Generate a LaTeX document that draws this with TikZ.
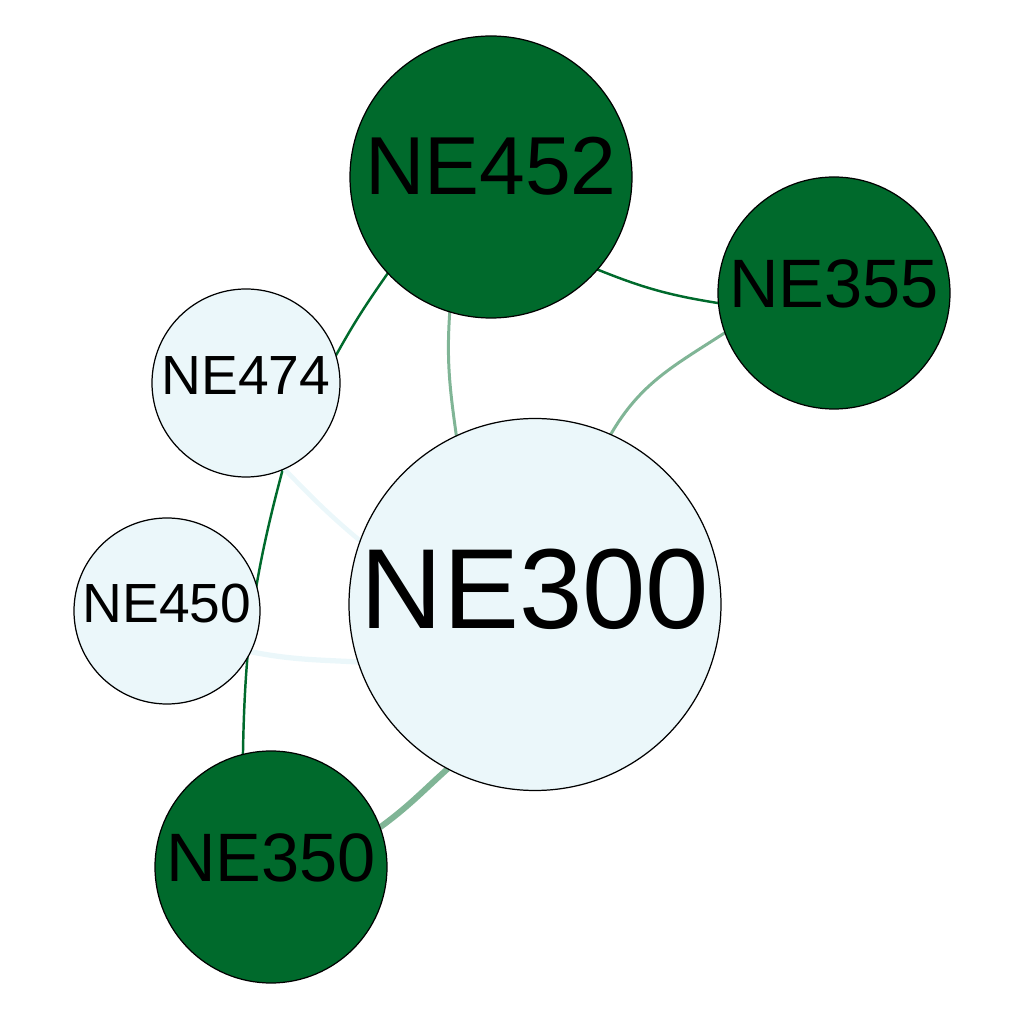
\documentclass[tikz,border=0pt]{standalone}
\usepackage{fontspec}
\setmainfont{Liberation Sans}
\usetikzlibrary{backgrounds}
\definecolor{nodegreen}{RGB}{0,106,44}
\definecolor{nodepale}{RGB}{235,247,250}

\begin{document}
\begin{tikzpicture}
      [
        GreenNode/.style={circle, draw, fill=nodegreen, line width=0.35pt, inner sep=0pt, outer sep=0pt, minimum size=#1},
        PaleNode/.style={circle, draw, fill=nodepale, line width=0.35pt, inner sep=0pt, outer sep=0pt, minimum size=#1},
        GreenEdge/.style={draw=nodegreen, line width=0.7pt},
        FadedEdge/.style={draw=nodegreen!50, line width=#1},
        PaleEdge/.style={draw=nodepale, line width=#1},
      ]
      \useasboundingbox (0,0) rectangle (10.24,10.24);

      \node [PaleNode=3.72cm, font=\fontsize{32.4}{36}\selectfont, text depth=9pt] (NE300) at (5.35,4.195) {NE300};
      \node [GreenNode=2.82cm, font=\fontsize{23.4}{26}\selectfont, text depth=6.6pt] (NE452) at (4.91,8.47) {NE452};
      \node [GreenNode=2.32cm, font=\fontsize{19.5}{22}\selectfont, text depth=5.5pt] (NE355) at (8.34,7.31) {NE355};
      \node [PaleNode=1.88cm, font=\fontsize{15.7}{18}\selectfont, text depth=4.4pt] (NE474) at (2.46,6.41) {NE474};
      \node [PaleNode=1.86cm, font=\fontsize{15.7}{18}\selectfont, text depth=4.4pt] (NE450) at (1.67,4.13) {NE450};
      \node [GreenNode=2.32cm, font=\fontsize{19.5}{22}\selectfont, text depth=5.5pt] (NE350) at (2.71,1.57) {NE350};

      % links, kept under the circles
      \begin{scope}[on background layer]
      \draw[GreenEdge] (NE452.-137) [out=-125, in=61] to (NE474.17);
      \draw[GreenEdge] (NE452.-41) [out=-22, in=171] to (NE355.185);
      \draw[GreenEdge] (NE474.-67) [out=-105, in=89] to (NE350.104);
      \draw[FadedEdge=0.85pt] (NE452.-107) [out=-94, in=98] to (NE300.115);
      \draw[FadedEdge=0.85pt] (NE355.200) [out=213, in=60] to (NE300.66);
      \draw[FadedEdge=1.7pt] (NE350.20) [out=36, in=222] to (NE300.-118);
      \draw[PaleEdge=1.3pt] (NE474.-66) [out=-46, in=140] to (NE300.160);
      \draw[PaleEdge=1.5pt] (NE450.-26) [out=-11, in=177] to (NE300.198);
      \end{scope}
    \end{tikzpicture}
\end{document}
